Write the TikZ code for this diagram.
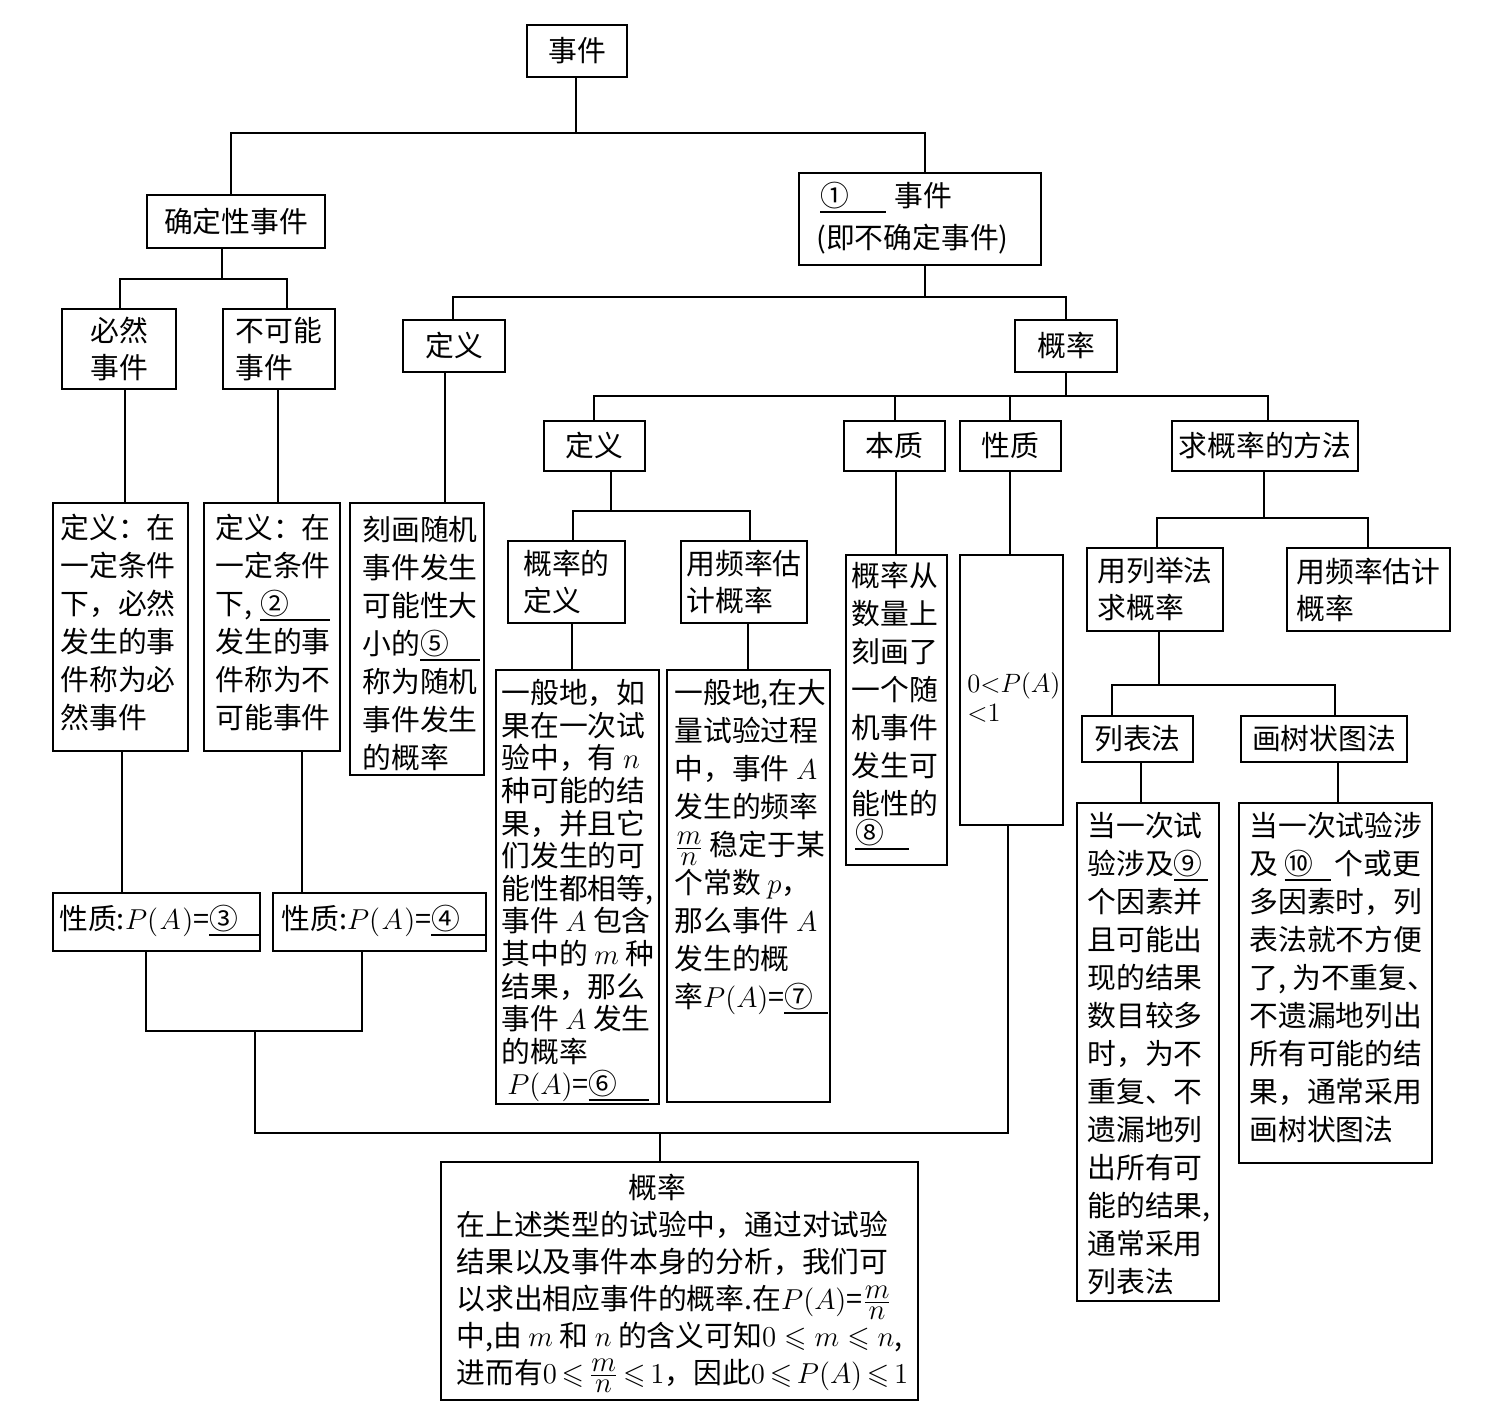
\documentclass[tikz,border=0pt]{standalone}
\usepackage{amssymb}
\usepackage{graphicx}
\usepackage[no-math]{fontspec}
\setmainfont{Noto Sans CJK SC}
\newcommand\blank[3]{\makebox[#2][l]{\rlap{\rule[-3pt]{#3}{0.7pt}}#1}}
\newcommand\cjkfs[2]{\fontsize{#1}{#2}\selectfont\lineskiplimit=-100pt\relax}
\newcommand\mn{\frac{\textstyle m}{\textstyle n}}
\tikzset{
  box/.style={draw, line width=0.9pt, inner sep=0pt, outer sep=0pt, anchor=north west, align=left, font=\cjkfs{14.4}{18.5}},
  txt/.style={inner sep=0pt, anchor=north west, align=left, font=\cjkfs{14.4}{19}},
  conn/.style={line width=0.9pt},
}
\newcommand\bx[7][]{\node[box, minimum width={(#5-#3)*0.5pt}, minimum height={(#6-#4)*0.5pt}, #1] (#2) at (#3,#4) {#7};}
\begin{document}
\begin{tikzpicture}[x=0.5pt,y=-0.5pt]
\useasboundingbox (0,0) rectangle (1511,1428);
\fill[white] (0,0) rectangle (1511,1428);
% small boxes
\bx{ev}{527}{25}{627}{77}{事件}
\bx{sj}{799}{173}{1041}{265}{}
\bx{qd}{147}{195}{325}{248}{确定性事件}
\bx{br}{62}{309}{176}{389}{必然\\事件}
\bx{bk}{223}{309}{335}{389}{不可能\\事件}
\bx{dy1}{403}{320}{505}{372}{定义}
\bx{gl}{1015}{320}{1117}{372}{概率}
\bx{dy2}{544}{421}{645}{471}{定义}
\bx{bz}{844}{421}{945}{471}{本质}
\bx{xz}{960}{421}{1061}{471}{性质}
\bx{ff}{1172}{421}{1358}{471}{求概率的方法}
\bx{gd}{508}{541}{625}{623}{概率的\\定义}
\bx{pg}{681}{541}{807}{623}{用频率估\\计概率}
\bx{lj}{1087}{548}{1223}{631}{用列举法\\求概率}
\bx{pg2}{1287}{548}{1450}{631}{用频率估计\\概率}
\bx{lb}{1082}{716}{1193}{762}{列表法}
\bx{sz}{1241}{716}{1407}{762}{画树状图法}
\bx{p3}{53}{893}{260}{951}{}
\bx{p4}{273}{893}{486}{951}{}
% large boxes
\bx{brd}{53}{503}{188}{751}{}
\bx{bkd}{204}{503}{340}{751}{}
\bx{kh}{350}{503}{484}{775}{}
\bx{d6}{496}{670}{659}{1104}{}
\bx{d7}{667}{670}{830}{1102}{}
\bx{bzd}{846}{555}{947}{865}{}
\bx{xzd}{960}{555}{1063}{825}{}
\bx{lbd}{1077}{803}{1219}{1301}{}
\bx{szd}{1239}{803}{1432}{1163}{}
\bx{bot}{441}{1162}{918}{1400}{}
% texts
\node[txt, anchor=west] (p3t) at (59,921) {性质:$P(\mkern1mu A\mkern1mu)$=\blank{③}{25pt}{25pt}};
\node[txt, anchor=west] (p4t) at (281,921) {性质:$P(\mkern1mu A\mkern1mu)$=\blank{④}{27pt}{27pt}};
\node[txt, font=\cjkfs{14.4}{20.75}] (sjt) at (816,182) {\hspace{2pt}\blank{①}{37pt}{33pt}事件\\(即不确定事件)};
\node[txt] (brdt) at (60,514) {定义：在\\一定条件\\下，必然\\发生的事\\件称为必\\然事件};
\node[txt] (bkdt) at (215,514) {定义：在\\一定条件\\下,\hspace{4pt}\blank{②}{35pt}{35pt}\\发生的事\\件称为不\\可能事件};
\node[txt] (kht) at (362,516) {刻画随机\\事件发生\\可能性大\\小的\blank{⑤}{30pt}{30pt}\\称为随机\\事件发生\\的概率};
\node[txt, font=\cjkfs{14.4}{16.3}] (d6t) at (501,679) {一般地，如\\果在一次试\\验中，有 $n$\\种可能的结\\果，并且它\\们发生的可\\能性都相等,\\事件 $A$ 包含\\其中的 $m$ 种\\结果，那么\\事件 $A$ 发生\\的概率\\\hspace{3pt}$P(A)$=\blank{⑥}{31pt}{30pt}};
\node[txt] (d7t) at (674,679) {一般地,在大\\量试验过程\\中，事件 $A$\\发生的频率\\$\mn$\hspace{3pt}稳定于某\\个常数 $p$，\\那么事件 $A$\\发生的概\\率$P(A)$=\blank{⑦}{22pt}{22pt}};
\node[txt] (bzdt) at (851,562) {概率从\\数量上\\刻画了\\一个随\\机事件\\发生可\\能性的\\[-4.5pt]\hspace{2pt}\blank{⑧}{27pt}{27pt}};
\node[txt, font=\cjkfs{14.4}{14.5}] (xzdt) at (967,672) {\scalebox{0.92}{$0{<}P(A)$}\\\scalebox{0.92}{${<}1$}};
\node[txt] (lbdt) at (1087,812) {当一次试\\验涉及\blank{⑨}{17pt}{17pt}\\个因素并\\且可能出\\现的结果\\数目较多\\时，为不\\重复、不\\遗漏地列\\出所有可\\能的结果,\\通常采用\\列表法};
\node[txt] (szdt) at (1249,812) {当一次试验涉\\及 \blank{⑩}{25pt}{23pt}个或更\\多因素时，列\\表法就不方便\\了,\hspace{3pt}为不重复、\\不遗漏地列出\\所有可能的结\\果，通常采用\\画树状图法};
\node[txt, anchor=north] (bott) at (657,1174) {概率};
\node[txt, font=\cjkfs{14.4}{18.4}] (botb) at (456,1211) {在上述类型的试验中，通过对试验\\结果以及事件本身的分析，我们可\\以求出相应事件的概率.在$P(A)$=$\mn$\\中,由 $m$ 和 $n$ 的含义可知$0\leqslant m\leqslant n$,\\进而有$0\,{\leqslant}\,\mn\,{\leqslant}\,1$，因此$0\,{\leqslant}\,P(A)\,{\leqslant}\,1$};
% connectors
\coordinate (j0) at (576,133);
\draw[conn] (576,0 |- ev.south) -- (j0);
\draw[conn] (231,0 |- qd.north) |- (j0) -| (925,0 |- sj.north);
\coordinate (j1) at (222,279);
\draw[conn] (222,0 |- qd.south) -- (j1);
\draw[conn] (120,0 |- br.north) |- (j1) -| (287,0 |- bk.north);
\coordinate (j2) at (925,297);
\draw[conn] (925,0 |- sj.south) -- (j2);
\draw[conn] (453,0 |- dy1.north) |- (j2) -| (1066,0 |- gl.north);
\draw[conn] (125,0 |- br.south) -- (125,0 |- brd.north);
\draw[conn] (278,0 |- bk.south) -- (278,0 |- bkd.north);
\draw[conn] (445,0 |- dy1.south) -- (445,0 |- kh.north);
\coordinate (j3) at (1066,396);
\draw[conn] (1066,0 |- gl.south) -- (j3);
\draw[conn] (594,0 |- dy2.north) |- (j3) -| (1268,0 |- ff.north);
\draw[conn] (895,0 |- bz.north) -- (895,0 |- j3);
\draw[conn] (1010,0 |- xz.north) -- (1010,0 |- j3);
\coordinate (j4) at (611,511);
\draw[conn] (611,0 |- dy2.south) -- (j4);
\draw[conn] (573,0 |- gd.north) |- (j4) -| (750,0 |- pg.north);
\draw[conn] (572,0 |- gd.south) -- (572,0 |- d6.north);
\draw[conn] (748,0 |- pg.south) -- (748,0 |- d7.north);
\draw[conn] (896,0 |- bz.south) -- (896,0 |- bzd.north);
\draw[conn] (1010,0 |- xz.south) -- (1010,0 |- xzd.north);
\coordinate (j5) at (1264,518);
\draw[conn] (1264,0 |- ff.south) -- (j5);
\draw[conn] (1157,0 |- lj.north) |- (j5) -| (1368,0 |- pg2.north);
\coordinate (j6) at (1159,685);
\draw[conn] (1159,0 |- lj.south) -- (j6);
\draw[conn] (1112,0 |- lb.north) |- (j6) -| (1335,0 |- sz.north);
\draw[conn] (1141,0 |- lb.south) -- (1141,0 |- lbd.north);
\draw[conn] (1338,0 |- sz.south) -- (1338,0 |- szd.north);
\draw[conn] (122,0 |- brd.south) -- (122,0 |- p3.north);
\draw[conn] (302,0 |- bkd.south) -- (302,0 |- p4.north);
\coordinate (j7) at (255,1031);
\draw[conn] (146,0 |- p3.south) |- (j7) -| (362,0 |- p4.south);
\coordinate (j8) at (255,1133);
\coordinate (j9) at (660,1133);
\draw[conn] (j7) -- (j8) -| (1008,0 |- xzd.south);
\draw[conn] (j9) -- (660,0 |- bot.north);
\end{tikzpicture}
\end{document}
